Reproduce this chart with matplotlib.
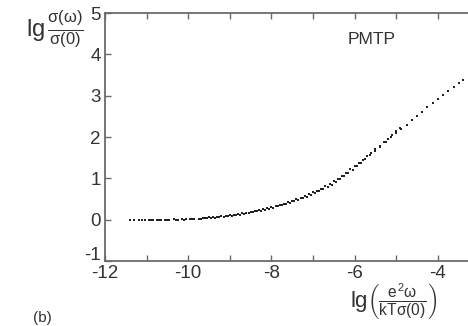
import matplotlib
matplotlib.use("Agg")
import matplotlib.pyplot as plt
from matplotlib.ticker import MultipleLocator

plt.rcParams['font.family'] = ['Liberation Sans', 'DejaVu Sans']
plt.rcParams['mathtext.fontset'] = 'custom'
plt.rcParams['mathtext.rm'] = 'Liberation Sans'
plt.rcParams['mathtext.it'] = 'Liberation Sans'
plt.rcParams['axes.unicode_minus'] = False

# Series A: main run over the full range
xa = [-11.40, -11.30, -11.18, -11.05, -10.95, -10.85, -10.75, -10.65, -10.55, -10.45,
      -10.35, -10.25, -10.15, -10.05, -9.95, -9.85, -9.75, -9.65, -9.55, -9.45,
      -9.35, -9.25, -9.15, -9.05, -8.95, -8.85, -8.75, -8.65, -8.55, -8.45,
      -8.35, -8.25, -8.15, -8.05, -7.95, -7.85, -7.75, -7.65, -7.55, -7.45,
      -7.35, -7.25, -7.15, -7.05, -6.95, -6.85, -6.75, -6.65, -6.55, -6.45,
      -6.35, -6.25, -6.15, -6.05, -5.95, -5.85, -5.75, -5.63, -5.50, -5.38,
      -5.25, -5.12, -5.00, -4.88, -4.75, -4.62, -4.50, -4.38, -4.25, -4.12,
      -4.00, -3.88, -3.75, -3.62, -3.50, -3.40]
ya = [0.00, 0.00, 0.00, 0.00, 0.00, 0.00, 0.00, 0.00, 0.00, 0.00,
      0.01, 0.00, 0.01, 0.01, 0.01, 0.02, 0.02, 0.03, 0.04, 0.04,
      0.05, 0.06, 0.07, 0.08, 0.10, 0.11, 0.12, 0.14, 0.16, 0.18,
      0.20, 0.22, 0.24, 0.27, 0.29, 0.32, 0.35, 0.38, 0.41, 0.45,
      0.48, 0.52, 0.56, 0.60, 0.64, 0.69, 0.74, 0.79, 0.85, 0.91,
      0.98, 1.05, 1.13, 1.21, 1.30, 1.38, 1.46, 1.56, 1.67, 1.77,
      1.88, 1.99, 2.10, 2.20, 2.30, 2.41, 2.51, 2.61, 2.72, 2.82,
      2.92, 3.01, 3.11, 3.21, 3.30, 3.38]

# Series B: second run overlapping the middle range
xb = [-9.60, -9.50, -9.40, -9.30, -9.20, -9.10, -9.00, -8.90, -8.80, -8.70,
      -8.60, -8.50, -8.40, -8.30, -8.20, -8.10, -8.00, -7.90, -7.80, -7.70,
      -7.60, -7.50, -7.40, -7.30, -7.20, -7.10, -7.00, -6.90, -6.80, -6.70,
      -6.60, -6.50, -6.40, -6.30, -6.20, -6.10, -6.00, -5.90, -5.80, -5.70,
      -5.60, -5.50, -5.40, -5.30, -5.20, -5.10, -5.00, -4.90]
yb = [0.05, 0.06, 0.07, 0.07, 0.09, 0.09, 0.11, 0.12, 0.14, 0.15,
      0.17, 0.19, 0.21, 0.23, 0.25, 0.28, 0.30, 0.33, 0.36, 0.39,
      0.42, 0.46, 0.49, 0.53, 0.57, 0.61, 0.66, 0.70, 0.75, 0.81,
      0.86, 0.93, 0.99, 1.06, 1.14, 1.22, 1.30, 1.37, 1.45, 1.53,
      1.62, 1.72, 1.79, 1.88, 1.95, 2.04, 2.14, 2.21]

# Series C: low-frequency plateau points
xc = [-11.12, -10.90, -10.70, -10.50, -10.30, -10.10, -9.90, -9.70]
yc = [0.00, -0.01, 0.00, -0.01, 0.00, 0.00, 0.01, 0.02]

xticks = [-12, -10, -8, -6, -4]
yticks = [-1, 0, 1, 2, 3, 4, 5]

fig = plt.figure(figsize=(4.68, 3.26), dpi=100)
ax = fig.add_axes([105/468, 1 - 261/326, 1 - 105/468, (261 - 13)/326])

for xs, ys in ((xa, ya), (xb, yb), (xc, yc)):
    ax.scatter(xs, ys, s=2.8, c='#222222', marker='s', linewidths=0)

ax.set_xlim(-12, -12 + (468 - 105) / 41.6)
ax.set_ylim(-1, 5)
ax.set_xticks(xticks)
ax.set_xticklabels([str(t) for t in xticks])
ax.xaxis.set_minor_locator(MultipleLocator(1))
ax.set_yticks(yticks)
# the lowest label (-1) is drawn separately, lifted a little as in the reference
ax.set_yticklabels(['' if t == yticks[0] else str(t) for t in yticks])

spine_col = '#6a6a6a'
for side in ('left', 'bottom', 'top'):
    ax.spines[side].set_color(spine_col)
    ax.spines[side].set_linewidth(1.3)
ax.spines['right'].set_visible(False)

ax.tick_params(axis='x', which='both', direction='in', top=True, length=4.5,
               width=1.0, color=spine_col, labelsize=13.5, labelcolor='#333333', pad=3)
ax.tick_params(axis='y', which='both', direction='in', length=4, width=1.0,
               color=spine_col, labelsize=13.5, labelcolor='#333333', pad=3)

fig.text(101/468, 1 - 255/326, str(yticks[0]), fontsize=13.5, color='#333333',
         ha='right', va='center')

fig.text(26/468, 1 - 29/326, r'$\mathrm{lg}\,\frac{\sigma(\omega)}{\sigma(0)}$',
         fontsize=17, color='#333333', ha='left', va='center')
fig.text(394/468, 1 - 301/326, r'$\mathrm{lg}\left(\frac{e^2\omega}{kT\sigma(0)}\right)$',
         fontsize=16, color='#333333', ha='center', va='center')
fig.text(33/468, 1 - 318/326, '(b)', fontsize=11, color='#333333',
         ha='left', va='center')
ax.text(372/468, 1 - 40/326, 'PMTP', transform=fig.transFigure, fontsize=12.5,
        color='#333333', ha='center', va='center')

fig.savefig('out.png', dpi=100)
